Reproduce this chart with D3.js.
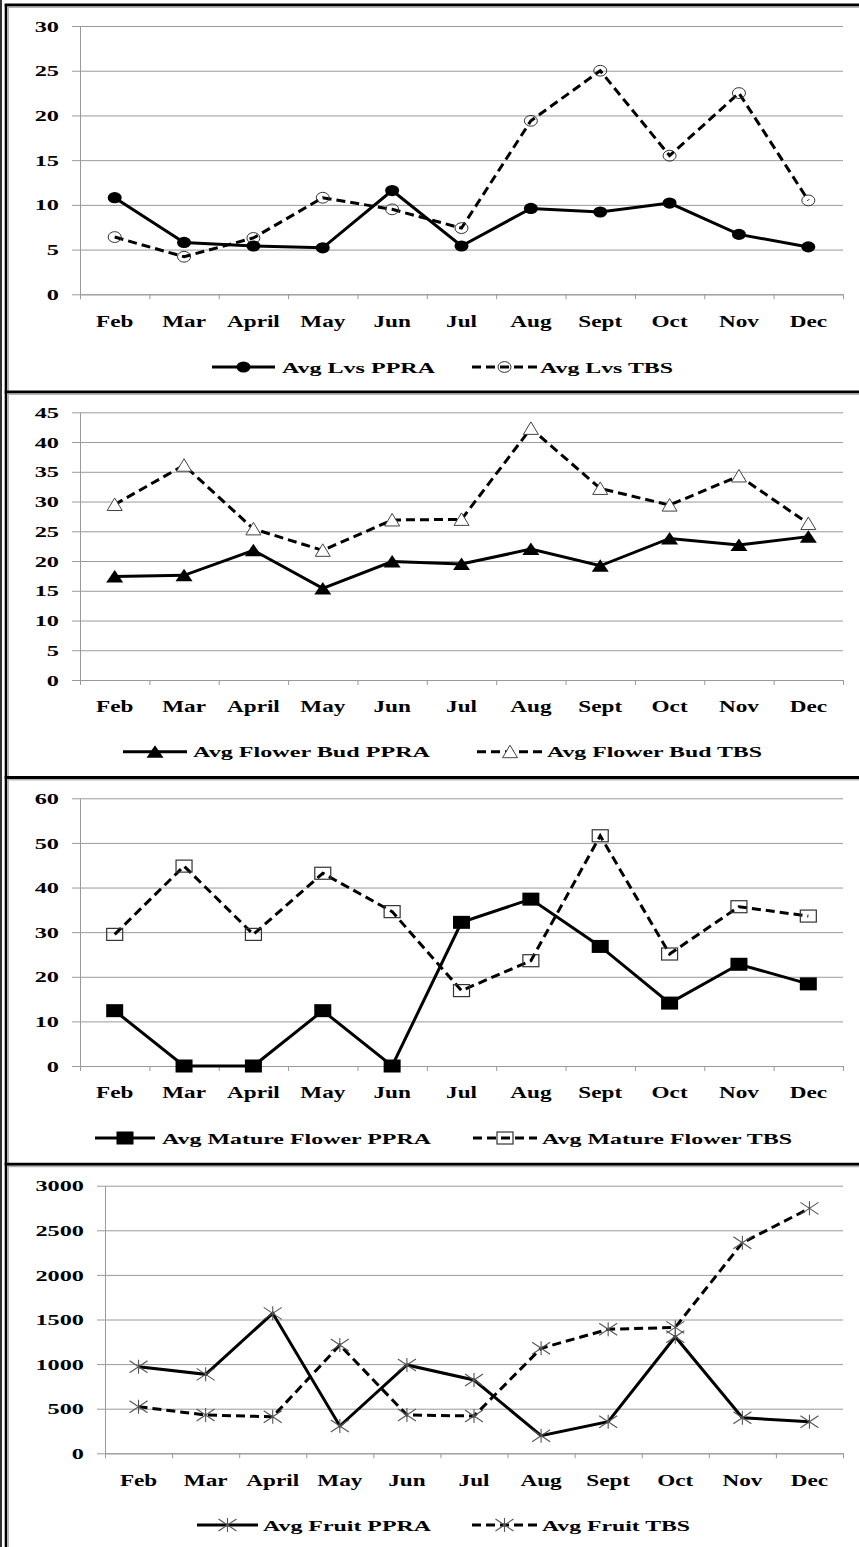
<!DOCTYPE html>
<html>
<head>
<meta charset="utf-8">
<script src="https://cdn.jsdelivr.net/npm/d3@7"></script>
<style>
  html, body { margin: 0; padding: 0; background: #fff; }
  svg { display: block; }
</style>
</head>
<body>
<script>
// Month categories shared by every panel
const months = ["Feb", "Mar", "April", "May", "Jun", "Jul", "Aug", "Sept", "Oct", "Nov", "Dec"];

// Average leaves
const lvsPPRA = [10.8, 5.8, 5.4, 5.2, 11.6, 5.4, 9.6, 9.2, 10.2, 6.7, 5.3];
const lvsTBS  = [6.4, 4.2, 6.3, 10.8, 9.5, 7.4, 19.4, 25.0, 15.5, 22.5, 10.5];

// Average flower buds
const budPPRA = [17.4, 17.6, 21.8, 15.4, 19.9, 19.5, 22.0, 19.2, 23.8, 22.7, 24.1];
const budTBS  = [29.5, 36.1, 25.4, 21.8, 26.9, 27.0, 42.3, 32.2, 29.4, 34.3, 26.3];

// Average mature flowers
const matPPRA = [12.4, 0, 0, 12.4, 0, 32.2, 37.4, 26.8, 14.1, 22.8, 18.4];
const matTBS  = [29.5, 44.8, 29.5, 43.2, 34.6, 16.9, 23.6, 51.6, 25.1, 35.7, 33.6];

// Average fruits
const fruitPPRA = [970, 885, 1569, 306, 990, 822, 197, 354, 1307, 399, 354];
const fruitTBS  = [522, 429, 410, 1214, 429, 418, 1177, 1390, 1412, 2360, 2746];

// Y tick values per panel
const lvsTicks   = [0, 5, 10, 15, 20, 25, 30];
const budTicks   = [0, 5, 10, 15, 20, 25, 30, 35, 40, 45];
const matTicks   = [0, 10, 20, 30, 40, 50, 60];
const fruitTicks = [0, 500, 1000, 1500, 2000, 2500, 3000];

// Legend labels
const lvsLabels   = ["Avg Lvs PPRA", "Avg Lvs TBS"];
const budLabels   = ["Avg Flower Bud PPRA", "Avg Flower Bud TBS"];
const matLabels   = ["Avg Mature Flower PPRA", "Avg Mature Flower TBS"];
const fruitLabels = ["Avg Fruit PPRA", "Avg Fruit TBS"];

const FONT = "'Liberation Serif', 'Times New Roman', 'DejaVu Serif', serif";
const W = 859, H = 1547;
const svg = d3.select("body").append("svg").attr("width", W).attr("height", H)
  .attr("font-family", FONT);
svg.append("rect").attr("width", W).attr("height", H).attr("fill", "#fff");

const panels = [
  { a: lvsPPRA, b: lvsTBS, ticks: lvsTicks, labels: lvsLabels, marker: "circle",
    x0: 80, x1: 843, yTop: 26, yZero: 294.3, labelY: 321, legY: 367,
    legA: { l0: 212, l1: 275, tx: 282, tw: 153 }, legB: { l0: 472, l1: 537, tx: 540, tw: 133 } },
  { a: budPPRA, b: budTBS, ticks: budTicks, labels: budLabels, marker: "triangle",
    x0: 80, x1: 843, yTop: 412.3, yZero: 680, labelY: 706.7, legY: 751.7,
    legA: { l0: 123, l1: 187, tx: 193, tw: 237 }, legB: { l0: 477, l1: 543, tx: 547, tw: 215 } },
  { a: matPPRA, b: matTBS, ticks: matTicks, labels: matLabels, marker: "square",
    x0: 80, x1: 843, yTop: 798.3, yZero: 1066, labelY: 1092.7, legY: 1138,
    legA: { l0: 95, l1: 155, tx: 162, tw: 269 }, legB: { l0: 473, l1: 537, tx: 542, tw: 250 } },
  { a: fruitPPRA, b: fruitTBS, ticks: fruitTicks, labels: fruitLabels, marker: "star",
    x0: 105, x1: 843, yTop: 1185.7, yZero: 1453.3, labelY: 1480, legY: 1525,
    legA: { l0: 197, l1: 258, tx: 263, tw: 168 }, legB: { l0: 472, l1: 537, tx: 542, tw: 148 } }
];

const GRID = "#9a9a9a";
const DASH = "9,5";

function styleText(sel, size) {
  sel.attr("font-family", FONT).attr("font-weight", "bold").attr("fill", "#000")
    .style("font-family", FONT).style("font-weight", "bold").style("font-size", size + "px");
}

// Draw a single marker of a given kind centred on (cx, cy)
function marker(g, kind, filled, cx, cy) {
  const m = g.append("g").attr("transform", `translate(${cx},${cy})`);
  if (kind === "circle") {
    if (filled) m.append("ellipse").attr("rx", 7).attr("ry", 5.6).attr("fill", "#000");
    else m.append("ellipse").attr("rx", 6.5).attr("ry", 5.4).attr("fill", "none").attr("stroke", "#333").attr("stroke-width", 1);
  } else if (kind === "triangle") {
    if (filled) m.append("path").attr("d", "M-8.5,6L8.5,6L0,-6.5Z").attr("fill", "#000");
    else m.append("path").attr("d", "M-7.5,6L7.5,6L0,-6.5Z").attr("fill", "#fff").attr("stroke", "#444").attr("stroke-width", 1);
  } else if (kind === "square") {
    if (filled) m.append("rect").attr("x", -8.5).attr("y", -6.5).attr("width", 17).attr("height", 13).attr("fill", "#000");
    else m.append("rect").attr("x", -8).attr("y", -6).attr("width", 16).attr("height", 12).attr("fill", "none").attr("stroke", "#333").attr("stroke-width", 1.2);
  } else if (kind === "star") {
    const p = "M0,-7L0,7M-9,-6L9,6M-9,6L9,-6";
    m.append("path").attr("d", p).attr("fill", "none").attr("stroke", "#555").attr("stroke-width", 1.1);
  }
}

panels.forEach(p => {
  const g = svg.append("g");
  const yMax = p.ticks[p.ticks.length - 1];
  const y = d3.scaleLinear().domain([0, yMax]).range([p.yZero, p.yTop]);
  const xb = d3.scaleBand().domain(months).range([p.x0, p.x1]);
  const xi = d3.scaleLinear().domain([0, months.length]).range([p.x0, p.x1]);
  const cx = m => xb(m) + xb.bandwidth() / 2;

  // Horizontal gridlines with short outward ticks
  const yAxis = g.append("g").attr("transform", `translate(${p.x0},0)`)
    .call(d3.axisLeft(y).tickValues(p.ticks).tickFormat(d3.format("d"))
      .tickSizeInner(-(p.x1 - p.x0)).tickSizeOuter(0).tickPadding(0));
  yAxis.attr("font-family", FONT);
  yAxis.select(".domain").attr("stroke", GRID);
  yAxis.selectAll(".tick line").attr("stroke", GRID).attr("x1", -8);
  yAxis.selectAll(".tick text")
    .attr("x", null).attr("dy", "0.34em")
    .attr("transform", "translate(-21,0) scale(1.62,1)")
    .attr("text-anchor", "end")
    .call(styleText, 15);

  // Category boundary ticks on the x axis
  const xTickAxis = g.append("g").attr("transform", `translate(0,${p.yZero})`)
    .call(d3.axisBottom(xi).tickValues(d3.range(months.length + 1)).tickFormat("").tickSizeInner(5).tickSizeOuter(0));
  xTickAxis.select(".domain").attr("stroke", GRID);
  xTickAxis.selectAll(".tick line").attr("stroke", GRID);

  // Month labels centred in each band
  const xLab = g.append("g").attr("transform", `translate(0,${p.yZero})`)
    .call(d3.axisBottom(xb).tickSize(0).tickPadding(0));
  xLab.attr("font-family", FONT);
  xLab.select(".domain").remove();
  xLab.selectAll(".tick text")
    .attr("y", null).attr("dy", null)
    .attr("transform", `translate(0,${p.labelY - p.yZero + 5.5}) scale(1.45,1)`)
    .call(styleText, 16);

  const line = d3.line().x((d, i) => cx(months[i])).y(d => y(d));

  // TBS (dashed) series then PPRA (solid) series
  g.append("path").datum(p.b).attr("d", line).attr("fill", "none")
    .attr("stroke", "#000").attr("stroke-width", 3).attr("stroke-dasharray", DASH);
  g.append("path").datum(p.a).attr("d", line).attr("fill", "none")
    .attr("stroke", "#000").attr("stroke-width", 3);

  p.b.forEach((v, i) => marker(g, p.marker, false, cx(months[i]), y(v)));
  p.a.forEach((v, i) => marker(g, p.marker, true, cx(months[i]), y(v)));

  // Legend
  const leg = g.append("g");
  [[p.legA, true, p.labels[0]], [p.legB, false, p.labels[1]]].forEach(([L, solid, label]) => {
    leg.append("line").attr("x1", L.l0).attr("x2", L.l1).attr("y1", p.legY).attr("y2", p.legY)
      .attr("stroke", "#000").attr("stroke-width", 3)
      .attr("stroke-dasharray", solid ? null : DASH);
    marker(leg, p.marker, solid, (L.l0 + L.l1) / 2, p.legY);
    leg.append("text").attr("x", L.tx).attr("y", p.legY + 5.5)
      .attr("textLength", L.tw).attr("lengthAdjust", "spacingAndGlyphs")
      .call(styleText, 15).text(label);
  });
});

// Page frame: double rule on the left, heavy rules on top and between panels
const frame = svg.append("g");
frame.append("line").attr("x1", 1).attr("x2", 1).attr("y1", 0).attr("y2", H).attr("stroke", "#000").attr("stroke-width", 1.6);
frame.append("line").attr("x1", 6).attr("x2", 6).attr("y1", 4).attr("y2", H).attr("stroke", "#000").attr("stroke-width", 2.6);
frame.append("line").attr("x1", 8.3).attr("x2", 8.3).attr("y1", 6).attr("y2", H).attr("stroke", "#b5b5b5").attr("stroke-width", 1.4);
[5, 392, 777.5, 1164.2].forEach(yy => {
  frame.append("line").attr("x1", 4.7).attr("x2", W).attr("y1", yy).attr("y2", yy).attr("stroke", "#000").attr("stroke-width", 3);
  frame.append("line").attr("x1", 7).attr("x2", W).attr("y1", yy + 2.3).attr("y2", yy + 2.3).attr("stroke", "#b5b5b5").attr("stroke-width", 1.4);
});
</script>
</body>
</html>
